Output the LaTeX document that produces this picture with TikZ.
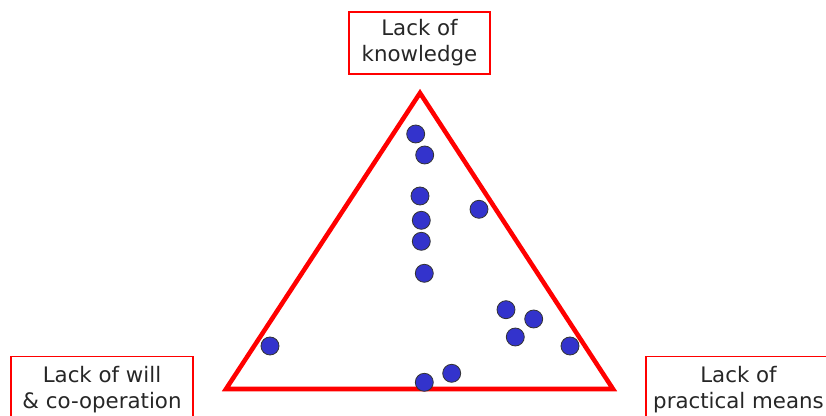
\documentclass[tikz,border=0pt]{standalone}
\usepackage{fontspec}
\setmainfont{DejaVu Sans}
\usetikzlibrary{positioning}
\definecolor{dotblue}{HTML}{3333CC}
\definecolor{edgered}{HTML}{FF0000}

\begin{document}
\begin{tikzpicture}[
        x=0.75pt, y=-0.75pt,
        label box/.style={draw=edgered, line width=1.1pt, align=center, inner sep=0pt,
            font=\fontsize{16}{19.5}\selectfont, text=black!85},
        dot/.style={circle, draw=black!80, line width=0.6pt, fill=dotblue,
            minimum size=13.5pt, inner sep=0pt},
        side/.style={draw=edgered, line width=3.4pt, line join=miter}
    ]
    \clip (0,0) rectangle (826,416);
    % Define nodes
    \node[label box, minimum width=105.75pt, minimum height=46.5pt] (K) at (419.5,43) {Lack of\\knowledge};
    \node[label box, minimum width=136.5pt, minimum height=50pt] (W) at (102,390) {Lack of will\\\& co-operation};
    \node[label box, minimum width=139pt, minimum height=50pt] (P) at (738.5,390) {Lack of\\practical means};
    % Triangle corners
    \coordinate (top) at (420,93);
    \coordinate (left) at (226,389);
    \coordinate (right) at (613,389);
    \draw[side] (top) -- (left) -- (right) -- cycle;
    % Define dots
    \node[dot] (d1) at (415.7,134) {};
    \node[dot] (d2) at (424.7,155) {};
    \node[dot] (d3) at (420,196) {};
    \node[dot] (d4) at (421.3,220.3) {};
    \node[dot] (d5) at (421.3,241.3) {};
    \node[dot] (d6) at (424.3,273.3) {};
    \node[dot] (d7) at (479,209.3) {};
    \node[dot] (d8) at (506,309.7) {};
    \node[dot] (d9) at (533.7,319) {};
    \node[dot] (d10) at (515.3,337) {};
    \node[dot] (d11) at (570,346) {};
    \node[dot] (d12) at (270,346) {};
    \node[dot] (d13) at (424.3,382.3) {};
    \node[dot] (d14) at (451.7,373.3) {};
\end{tikzpicture}
\end{document}
